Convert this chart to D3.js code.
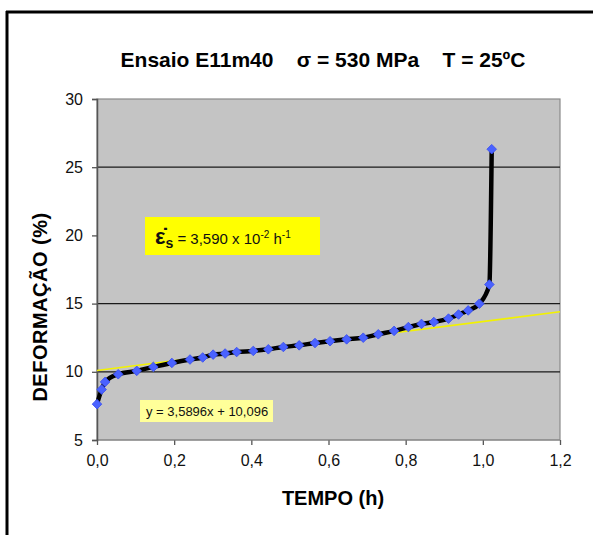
<!DOCTYPE html>
<html><head><meta charset="utf-8">
<script src="https://cdn.jsdelivr.net/npm/d3@7"></script>
<style>
body{margin:0;background:#fff;}
svg{display:block;}
</style></head>
<body><svg id="c" width="593" height="535"></svg>
<script>
const tempo = [0.000,0.012,0.021,0.055,0.103,0.146,0.194,0.241,0.274,0.301,0.332,0.362,0.405,0.444,0.483,0.524,0.565,0.604,0.647,0.690,0.729,0.770,0.807,0.841,0.873,0.911,0.937,0.962,0.991,1.017,1.023];
const deformacao = [7.63,8.70,9.26,9.82,10.07,10.36,10.65,10.90,11.05,11.26,11.34,11.45,11.53,11.65,11.82,11.94,12.11,12.24,12.38,12.50,12.75,13.00,13.28,13.51,13.65,13.90,14.20,14.50,14.99,16.40,26.32];
const xTicks = [0,0.2,0.4,0.6,0.8,1.0,1.2];
const yTicks = [5,10,15,20,25,30];
const gridValues = [10,15,25];
const trendSlope = 3.5896, trendIntercept = 10.096;
const title = "Ensaio E11m40    \u03C3 = 530 MPa    T = 25\u00BAC";
const xTitle = "TEMPO (h)";
const yTitle = "DEFORMA\u00C7\u00C3O (%)";
const trendLabel = "y = 3,5896x + 10,096";

const svg = d3.select("#c");
const narrow = "'Liberation Sans Narrow','Arial Narrow','Liberation Sans',Arial,sans-serif";
const L = 97, R = 560, T = 99, B = 440;
const x = d3.scaleLinear().domain([0,1.2]).range([L,R]);
const y = d3.scaleLinear().domain([5,30]).range([B,T]);

// outer frame (left and top visible)
svg.append("line").attr("x1",7).attr("x2",7).attr("y1",11).attr("y2",535).attr("stroke","#000").attr("stroke-width",3);
svg.append("line").attr("x1",6).attr("x2",593).attr("y1",12).attr("y2",12).attr("stroke","#000").attr("stroke-width",3);

// plot area
svg.append("rect").attr("x",L).attr("y",T).attr("width",R-L).attr("height",B-T)
  .attr("fill","#c4c4c4").attr("stroke","#8a8a8a").attr("stroke-width",1.2);

// gridlines
svg.append("g").selectAll("line").data(gridValues).join("line")
  .attr("x1",L).attr("x2",R).attr("y1",d=>y(d)).attr("y2",d=>y(d))
  .attr("stroke","#1a1a1a").attr("stroke-width",1.3);

// axes
const fmt = d => d3.format(".1f")(d).replace(".",",");
const xAxis = svg.append("g").attr("transform",`translate(0,${B})`)
  .call(d3.axisBottom(x).tickValues(xTicks).tickFormat(fmt).tickSize(5).tickPadding(10));
const yAxis = svg.append("g").attr("transform",`translate(${L},0)`)
  .call(d3.axisLeft(y).tickValues(yTicks).tickFormat(d3.format("d")).tickSize(5).tickPadding(9));
[xAxis,yAxis].forEach(a=>{
  a.select(".domain").attr("stroke","#555").attr("stroke-width",1.5);
  a.selectAll(".tick line").attr("stroke","#555").attr("stroke-width",1.3);
  a.selectAll("text").attr("font-family",narrow).attr("font-size",16).attr("fill","#111");
});
xAxis.selectAll(".domain").remove();
xAxis.append("line").attr("x1",L).attr("x2",R).attr("stroke","#888").attr("stroke-width",1.2);

// trend line
svg.append("line")
  .attr("x1",x(0)).attr("y1",y(trendIntercept))
  .attr("x2",x(1.2)).attr("y2",y(trendIntercept+trendSlope*1.2))
  .attr("stroke","#f2f200").attr("stroke-width",1.6);

const pts = tempo.map((t,i)=>[t,deformacao[i]]);
// data curve
svg.append("path").datum(pts)
  .attr("d",d3.line().x(d=>x(d[0])).y(d=>y(d[1])).curve(d3.curveMonotoneX))
  .attr("fill","none").attr("stroke","#000").attr("stroke-width",4.5);

// markers (square diamonds)
svg.append("g").selectAll("path").data(pts).join("path")
  .attr("transform",d=>`translate(${x(d[0])},${y(d[1])}) rotate(45)`)
  .attr("d",d3.symbol(d3.symbolSquare,46))
  .attr("fill","#4a62ff").attr("stroke","#3a4ff0").attr("stroke-width",0.8);

// title
svg.append("text").attr("x",323).attr("y",67).attr("text-anchor","middle")
  .attr("font-family",narrow).attr("font-weight","bold").attr("font-size",21)
  .attr("xml:space","preserve").style("white-space","pre").text(title);

// axis titles
svg.append("text").attr("x",333).attr("y",505).attr("text-anchor","middle")
  .attr("font-family",narrow).attr("font-weight","bold").attr("font-size",20).text(xTitle);
svg.append("text").attr("transform","translate(47,307) rotate(-90)").attr("text-anchor","middle")
  .attr("font-family","'Liberation Sans',Arial,sans-serif").attr("font-weight","bold").attr("font-size",20)
  .attr("letter-spacing",0.5).text(yTitle);

// strain-rate annotation
svg.append("rect").attr("x",145).attr("y",217).attr("width",175).attr("height",38).attr("fill","#ffff00");
const ann = svg.append("text").attr("x",155).attr("y",244).attr("font-family",narrow).attr("font-size",15).attr("fill","#111");
ann.append("tspan").attr("font-family","'Liberation Sans',Arial,sans-serif").attr("font-weight","bold").attr("font-size",22).text("\u03B5\u0307");
ann.append("tspan").attr("font-family","'Liberation Sans',Arial,sans-serif").attr("font-weight","bold").attr("font-size",14).attr("dy",4).text("s");
ann.append("tspan").attr("dy",-4).text(" = 3,590 x 10");
ann.append("tspan").attr("font-size",10).attr("dy",-6).text("-2");
ann.append("tspan").attr("dy",6).text(" h");
ann.append("tspan").attr("font-size",10).attr("dy",-6).text("-1");

// trend equation label
svg.append("rect").attr("x",140).attr("y",400).attr("width",133).attr("height",22).attr("fill","#ffff99");
svg.append("text").attr("x",146).attr("y",416).attr("font-family",narrow).attr("font-size",13).attr("fill","#111").text(trendLabel);
</script></body></html>
